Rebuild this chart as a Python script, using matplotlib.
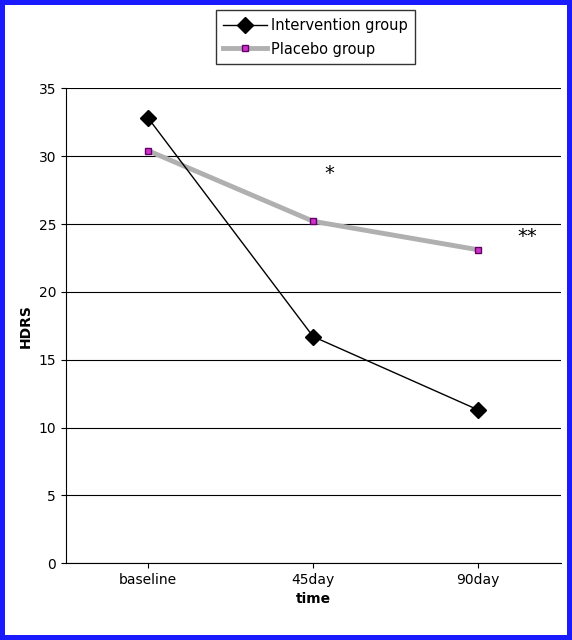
import matplotlib.pyplot as plt
import numpy as np

times = ['baseline', '45day', '90day']
intervention = [32.8, 16.7, 11.3]
placebo = [30.4, 25.2, 23.1]

fig = plt.figure(figsize=(5.72, 6.4), dpi=100)
fig.patch.set_edgecolor('#1a1aff')
fig.patch.set_linewidth(6)
ax = fig.add_axes([0.115, 0.12, 0.865, 0.742])

x = np.arange(len(times))
ax.plot(x, placebo, color='#b0b0b0', lw=3.5, zorder=2, label='Placebo group',
        marker='s', markersize=5, markerfacecolor='#cc33cc', markeredgecolor='#660066')
ax.plot(x, intervention, color='black', lw=1, marker='D', markersize=8, zorder=3,
        label='Intervention group')

ax.text(1.1, 28.3, '*', fontsize=14, ha='center')
ax.text(2.3, 23.7, '**', fontsize=14, ha='center')

ax.set_xlim(-0.5, 2.5)
ax.set_ylim(0, 35)
ax.set_yticks(range(0, 36, 5))
ax.set_xticks(x)
ax.set_xticklabels(times)
ax.yaxis.grid(True, color='black', lw=0.8)
ax.set_axisbelow(True)
for s in ['top', 'right']:
    ax.spines[s].set_visible(False)
ax.tick_params(labelsize=10)
ax.set_xlabel('time', fontweight='bold', fontsize=10)
ax.set_ylabel('HDRS', fontweight='bold', fontsize=10)

h, l = ax.get_legend_handles_labels()
fig.legend(h[::-1], l[::-1], loc='upper center', bbox_to_anchor=(0.552, 0.995),
           fancybox=False, edgecolor='black', fontsize=10.5, handlelength=3,
           handletextpad=0.3, borderpad=0.5, labelspacing=0.6)

fig.savefig('out.png')
